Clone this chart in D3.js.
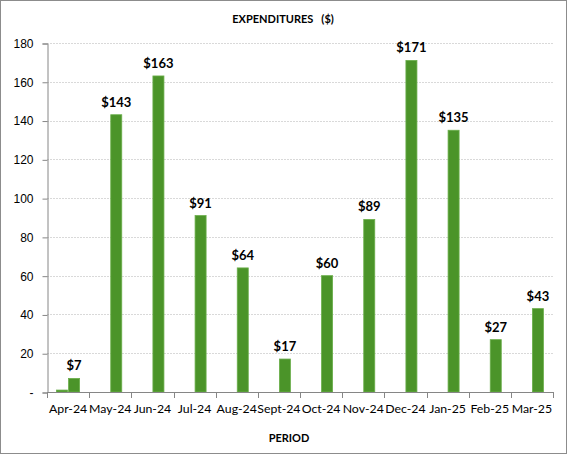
<!DOCTYPE html>
<html>
<head>
<meta charset="utf-8">
<script src="https://cdn.jsdelivr.net/npm/d3@7"></script>
<style>
  body { margin: 0; background: #fff; }
  svg { display: block; font-family: Lato, "Open Sans", sans-serif; }
</style>
</head>
<body>
<div id="chart"></div>
<script>
// chart data
var periods = ["Apr-24", "May-24", "Jun-24", "Jul-24", "Aug-24", "Sept-24", "Oct-24",
               "Nov-24", "Dec-24", "Jan-25", "Feb-25", "Mar-25"];
var carryOver = [1, 0, 0, 0, 0, 0, 0, 0, 0, 0, 0, 0];   // small unlabeled first series
var expenditures = [7, 143, 163, 91, 64, 17, 60, 89, 171, 135, 27, 43];
var yTicks = [0, 20, 40, 60, 80, 100, 120, 140, 160, 180];

var width = 567,
    height = 454;

var margin = { top: 43, right: 14, bottom: 62, left: 47 };

var svg = d3.select('#chart')
    .append('svg')
    .attr('width', width)
    .attr('height', height);

// outer frame
svg.append('rect')
    .attr('x', 0.5).attr('y', 0.5)
    .attr('width', width - 1).attr('height', height - 1)
    .attr('fill', '#fff')
    .attr('stroke', '#8c8c8c');

var x0 = d3.scaleBand()
    .domain(periods)
    .range([margin.left, width - margin.right])
    .paddingInner(0.43)
    .paddingOuter(0.215);

var x1 = d3.scaleBand()
    .domain(['a', 'b'])
    .range([0, x0.bandwidth()]);

var y = d3.scaleLinear()
    .domain([0, 180])
    .range([height - margin.bottom, margin.top]);

var g = svg.append('g');

// gridlines
g.selectAll('line.grid')
    .data(yTicks.slice(1))
    .enter()
    .append('line')
    .attr('class', 'grid')
    .attr('x1', margin.left)
    .attr('x2', width - margin.right)
    .attr('y1', function (d) { return Math.round(y(d)) + 0.5; })
    .attr('y2', function (d) { return Math.round(y(d)) + 0.5; })
    .attr('stroke', '#d9d9d9')
    .attr('stroke-dasharray', '2,1');

// y axis
var yAxis = d3.axisLeft(y)
    .tickValues(yTicks)
    .tickSize(5)
    .tickPadding(9)
    .tickFormat(function (d) { return d === 0 ? '-' : d; });

var ya = svg.append('g')
    .attr('transform', 'translate(' + (margin.left + 0.5) + ',0.5)')
    .call(yAxis);
ya.select('.domain').attr('stroke', '#868686');
ya.selectAll('.tick line').attr('stroke', '#868686');
ya.selectAll('.tick text')
    .attr('fill', '#000')
    .style('font-size', '12px');

// x axis: ticks between categories
var step = x0.step();
var xa = svg.append('g');
xa.append('line')
    .attr('x1', margin.left)
    .attr('x2', width - margin.right)
    .attr('y1', y(0) + 0.5)
    .attr('y2', y(0) + 0.5)
    .attr('stroke', '#868686');
xa.selectAll('line.xt')
    .data(d3.range(periods.length + 1))
    .enter()
    .append('line')
    .attr('class', 'xt')
    .attr('x1', function (i) { return Math.round(margin.left + i * step) + 0.5; })
    .attr('x2', function (i) { return Math.round(margin.left + i * step) + 0.5; })
    .attr('y1', y(0))
    .attr('y2', y(0) + 6)
    .attr('stroke', '#868686');
xa.selectAll('text')
    .data(periods)
    .enter()
    .append('text')
    .attr('x', function (d) { return x0(d) + x0.bandwidth() / 2; })
    .attr('y', y(0) + 21)
    .attr('text-anchor', 'middle')
    .style('font-size', '12.3px')
    .text(function (d) { return d; });

// bars (two series side by side per period)
periods.forEach(function (p, i) {
    [['a', carryOver[i]], ['b', expenditures[i]]].forEach(function (s) {
        if (s[1] <= 0) return;
        g.append('rect')
            .attr('x', x0(p) + x1(s[0]) + 0.5)
            .attr('width', x1.bandwidth() - 1)
            .attr('y', y(s[1]))
            .attr('height', y(0) - y(s[1]))
            .attr('fill', '#4b9429')
            .attr('stroke', '#6aae4a')
            .attr('stroke-width', 0.8);
    });
});

// data labels
g.selectAll('text.lbl')
    .data(expenditures)
    .enter()
    .append('text')
    .attr('class', 'lbl')
    .attr('x', function (d, i) { return x0(periods[i]) + x1('b') + x1.bandwidth() / 2; })
    .attr('y', function (d) { return y(d) - 8; })
    .attr('text-anchor', 'middle')
    .style('font-size', '13px')
    .style('font-weight', 'bold')
    .text(function (d) { return '$' + d; });

// titles
svg.append('text')
    .attr('x', 283)
    .attr('y', 23)
    .attr('text-anchor', 'middle')
    .style('font-size', '11px')
    .style('font-weight', 'bold')
    .attr('xml:space', 'preserve')
    .text('EXPENDITURES   ($)');

svg.append('text')
    .attr('x', 289)
    .attr('y', 442)
    .attr('text-anchor', 'middle')
    .style('font-size', '11px')
    .style('font-weight', 'bold')
    .text('PERIOD');
</script>
</body>
</html>
